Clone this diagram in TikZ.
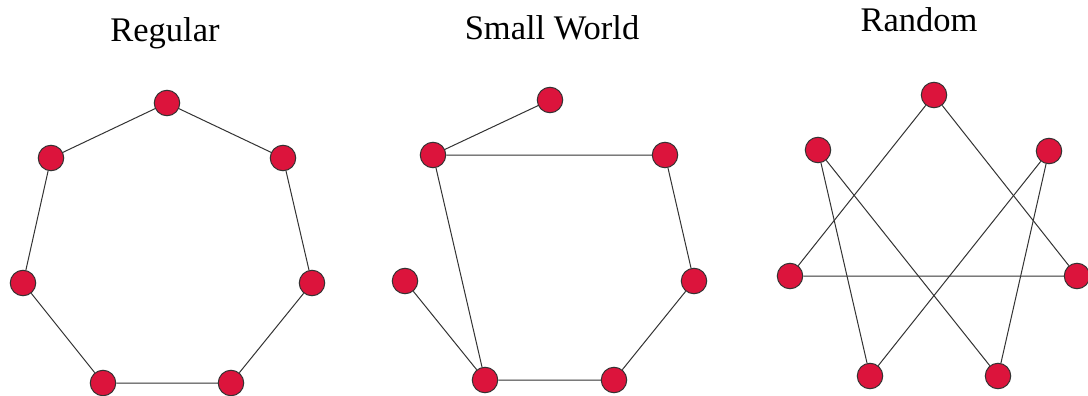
\documentclass[tikz,border=0pt]{standalone}
\usepackage{fontspec}
\setmainfont{Liberation Serif}
\usepackage{xcolor}
\usepackage{tikz}
\usetikzlibrary{positioning}
\definecolor{vertexRed}{HTML}{DC143C}
\definecolor{edgeGray}{HTML}{333333}

\begin{document}
\begin{tikzpicture}[
    x=1pt,y=-1pt,
    vtx/.style ={circle,draw=edgeGray,fill=vertexRed,line width=1pt,
                 inner sep=0pt,minimum size=25.5pt},
    edg/.style ={draw=edgeGray,line width=1pt},
    ttl/.style ={font=\fontsize{34.5}{40}\selectfont,anchor=base}
  ]
  \useasboundingbox (0,0) rectangle (1088,396);
  %% Left: regular ring lattice
  \node[ttl] (tReg) at (165,42) {Regular};
  \node[vtx] (r1) at (167,103) {};
  \node[vtx] (r2) at (283,158) {};
  \node[vtx] (r3) at (312,283) {};
  \node[vtx] (r4) at (231,383) {};
  \node[vtx] (r5) at (103,383) {};
  \node[vtx] (r6) at ( 23,283) {};
  \node[vtx] (r7) at ( 51,158) {};
  \draw[edg] (r1) -- (r2) -- (r3) -- (r4) -- (r5) -- (r6) -- (r7) -- (r1);
  %% Middle: small world (two rewired edges)
  \node[ttl] (tSW) at (552,40) {Small World};
  \node[vtx] (s1) at (550,100) {};
  \node[vtx] (s2) at (665,155) {};
  \node[vtx] (s3) at (694,281) {};
  \node[vtx] (s4) at (614,380) {};
  \node[vtx] (s5) at (485,380) {};
  \node[vtx] (s6) at (405,281) {};
  \node[vtx] (s7) at (433,155) {};
  \draw[edg] (s1) -- (s7) -- (s2) -- (s3) -- (s4) -- (s5) -- (s6);
  \draw[edg] (s7) -- (s5);
  %% Right: random graph
  \node[ttl] (tRnd) at (919,32) {Random};
  \node[vtx] (q1) at ( 934, 95) {};
  \node[vtx] (q2) at (1049,151) {};
  \node[vtx] (q3) at (1077,276) {};
  \node[vtx] (q4) at ( 998,376) {};
  \node[vtx] (q5) at ( 870,376) {};
  \node[vtx] (q6) at ( 790,276) {};
  \node[vtx] (q7) at ( 818,150) {};
  \draw[edg] (q1) -- (q6) -- (q3) -- (q1);
  \draw[edg] (q7) -- (q5) -- (q2) -- (q4) -- (q7);
\end{tikzpicture}
\end{document}
